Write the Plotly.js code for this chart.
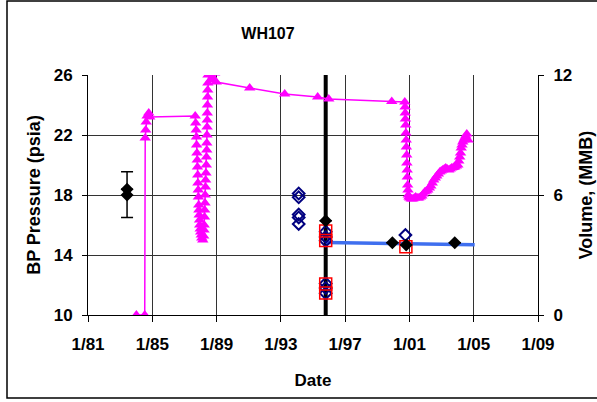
<!DOCTYPE html>
<html><head><meta charset="utf-8">
<script src="https://cdn.plot.ly/plotly-3.0.1.min.js"></script>
<style>body{margin:0;background:#fff}#c{width:597px;height:402px}</style>
</head><body><div id="c"></div>
<script>
// Volume (MMB), right axis — decimal years
const volYears = [1984.01,1984.53,1984.56,1984.59,1984.62,1984.68,1984.78,1984.84,
 1987.67,1987.70,1987.73,1987.75,1987.76,1987.78,1987.80,1987.81,1987.83,1987.84,1987.86,1987.87,1987.89,1987.90,1987.92,1987.94,1987.95,1987.98,1988.01,1988.05,1988.08,1988.14,
 1988.20,1988.22,1988.23,1988.25,1988.26,1988.28,1988.29,1988.31,1988.32,1988.34,1988.36,1988.37,1988.39,1988.39,1988.40,1988.41,1988.42,1988.42,1988.43,1988.44,1988.45,1988.46,1988.47,
 1988.51,1988.64,1988.76,1988.88,1988.98,
 1991.06,1993.24,1995.29,1995.98,1999.90,
 2000.71,2000.73,2000.74,2000.75,2000.77,2000.78,2000.80,2000.81,2000.83,2000.84,2000.86,2000.87,2000.89,2000.91,2000.93,2000.97,
 2001.02,2001.11,2001.21,2001.30,2001.39,2001.49,2001.58,2001.68,2001.77,2001.86,2001.95,2002.05,2002.14,2002.24,2002.33,2002.42,
 2002.51,2002.61,2002.70,2002.80,2002.89,2002.98,2003.07,2003.17,2003.26,2003.35,2003.45,2003.54,2003.63,2003.73,2003.82,2003.92,
 2004.01,2004.07,2004.13,2004.18,2004.22,2004.27,2004.32,2004.38,2004.44,2004.50,2004.57,2004.65];
const volValues = [0,0,8.85,9.25,9.65,9.95,10.1,9.9,
 9.95,9.6,9.25,8.9,8.5,8.1,7.75,7.4,7.0,6.6,6.25,5.9,5.5,5.25,5.0,4.75,4.5,4.3,4.15,4.0,3.85,3.75,
 3.95,4.25,4.5,4.9,5.25,5.6,6.0,6.4,6.75,7.1,7.5,7.9,8.25,8.6,9.0,9.4,9.75,10.1,10.5,10.9,11.25,11.6,12.0,
 12.15,11.75,11.85,12.1,11.65,
 11.35,11.05,10.9,10.8,10.67,
 10.65,10.4,10.1,9.8,9.5,9.1,8.75,8.4,8.0,7.6,7.25,6.9,6.5,6.25,6.0,5.9,
 5.85,5.8,5.8,5.85,5.9,5.85,5.85,5.9,5.95,6.05,6.15,6.2,6.25,6.35,6.45,6.6,
 6.75,6.85,6.95,7.05,7.15,7.2,7.25,7.3,7.35,7.3,7.25,7.3,7.35,7.38,7.4,7.45,
 7.5,7.7,7.9,8.1,8.35,8.5,8.65,8.75,8.85,8.95,9.05,8.75];

// BP pressure (psia), left axis
const bpYears = [1983.43,1983.43,1995.79,1999.94,2000.80,2003.82];
const bpValues = [18.0,18.38,16.29,14.82,14.67,14.82];
const bpErrPlus = [1.55,0,0,0,0,0];
const bpErrMinus = [1.5,0,0,0,0,0];

const openYears = [1994.11,1994.11,1994.11,1994.11,1994.11,1995.79,1995.79,1995.79,1995.79,1995.79,1995.79,2000.75];
const openValues = [18.1,17.85,16.7,16.5,16.07,15.55,15.2,14.95,12.1,11.8,11.45,15.33];

const sqYears = [1995.79,1995.79,1995.79,1995.79,2000.78];
const sqValues = [15.6,14.97,12.07,11.47,14.55];

const trendYears = [1995.79,2005.06];
const trendValues = [14.84,14.68];

const markerYear = [1995.79,1995.79];
const markerRange = [10,26];

const tickYears = [1981,1985,1989,1993,1997,2001,2005,2009];
const tickText = ['1/81','1/85','1/89','1/93','1/97','1/01','1/05','1/09'];

const F = 'Arial, "Liberation Sans", sans-serif';
const traces = [
 {x: markerYear, y: markerRange, mode:'lines', line:{color:'#000', width:4}, yaxis:'y', hoverinfo:'skip'},
 {x: trendYears, y: trendValues, mode:'lines', line:{color:'#3F6FEF', width:3.5}, yaxis:'y'},
 {x: volYears, y: volValues, mode:'lines+markers', yaxis:'y2',
  line:{color:'#FF00FF', width:1.5},
  marker:{symbol:'triangle-up', size:10, color:'#FF00FF'}},
 {x: openYears, y: openValues, mode:'markers', yaxis:'y',
  marker:{symbol:'diamond-open', size:9, color:'#000080', line:{width:2, color:'#000080'}}},
 {x: sqYears, y: sqValues, mode:'markers', yaxis:'y',
  marker:{symbol:'square-open', size:12, color:'#FF0000', line:{width:1.5, color:'#FF0000'}}},
 {x: bpYears, y: bpValues, mode:'markers', yaxis:'y',
  marker:{symbol:'diamond', size:10, color:'#000'},
  error_y:{type:'data', symmetric:false, array: bpErrPlus, arrayminus: bpErrMinus, color:'#000', thickness:1.5, width:6}}
];
const layout = {
 width:597, height:402, showlegend:false,
 paper_bgcolor:'#fff', plot_bgcolor:'#fff',
 margin:{l:88, r:59, t:75, b:87},
 font:{family:F, color:'#000'},
 title:{text:'<b>WH107</b>', font:{size:16, family:F}, x:0.40, xref:'paper', xanchor:'center', y:0.932, yref:'container'},
 xaxis:{range:[1981,2009], tickvals:tickYears, ticktext:tickText, showgrid:true, gridcolor:'#333', gridwidth:1,
   showline:true, linecolor:'#000', linewidth:1, ticks:'outside', ticklen:6, tickcolor:'#000',
   tickfont:{size:17, family:F, weight:'bold'}, zeroline:false, ticklabelstandoff:8,
   title:{text:'<b>Date</b>', font:{size:17, family:F}, standoff:20}},
 yaxis:{range:[10,26], tickvals:[10,14,18,22,26], showgrid:true, gridcolor:'#333', gridwidth:1,
   showline:true, linecolor:'#000', linewidth:1, ticks:'outside', ticklen:5, tickcolor:'#000',
   tickfont:{size:17, family:F, weight:'bold'}, zeroline:false, ticklabelstandoff:6,
   title:{text:'<b>BP Pressure (psia)</b>', font:{size:18, family:F}, standoff:8}},
 yaxis2:{range:[0,12], tickvals:[0,6,12], overlaying:'y', side:'right', showgrid:false,
   showline:true, linecolor:'#000', linewidth:1, ticks:'outside', ticklen:5, tickcolor:'#000',
   tickfont:{size:17, family:F, weight:'bold'}, zeroline:false, ticklabelstandoff:6,
   title:{text:'<b>Volume, (MMB)</b>', font:{size:18, family:F}, standoff:8}},
 shapes:[{type:'rect', xref:'paper', yref:'paper', x0:-0.18, x1:1.2, y0:-0.346, y1:1.308,
   line:{color:'#000', width:1.5}, fillcolor:'rgba(0,0,0,0)', layer:'below'}]
};
Plotly.newPlot('c', traces, layout, {staticPlot:true});
</script></body></html>
